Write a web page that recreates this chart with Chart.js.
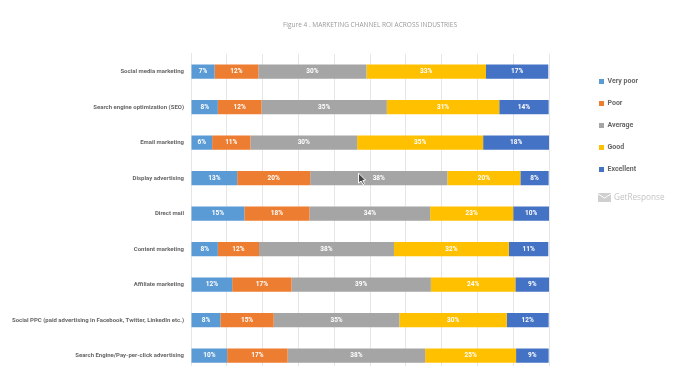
<!DOCTYPE html>
<html>
<head>
<meta charset="utf-8">
<script src="https://cdn.jsdelivr.net/npm/chart.js@4"></script>
<style>
  html, body { margin: 0; background: #fff; overflow: hidden; }
  #wrap { width: 681px; height: 366px; overflow: hidden; }
  #box { width: 681px; height: 384px; position: relative; }
</style>
</head>
<body>
<div id="wrap"><div id="box"><canvas id="c"></canvas></div></div>
<script>
const channels = [
  'Social media marketing',
  'Search engine optimization (SEO)',
  'Email marketing',
  'Display advertising',
  'Direct mail',
  'Content marketing',
  'Affiliate marketing',
  'Social PPC (paid advertising in Facebook, Twitter, LinkedIn etc.)',
  'Search Engine/Pay-per-click advertising'
];
const veryPoor = [6.6, 7.5, 5.9, 12.9, 14.9, 7.5, 11.5, 8.2, 10.1];
const poor = [12.2, 12.2, 10.7, 20.4, 18.2, 11.5, 16.6, 14.9, 16.9];
const average = [30.2, 35, 29.8, 38.3, 33.7, 37.7, 38.9, 35.1, 38.4];
const good = [33.4, 31.4, 35.2, 20.4, 23.2, 32.1, 23.6, 30, 25.4];
const excellent = [17.4, 13.8, 18.4, 7.9, 10, 11, 9.4, 11.7, 9.1];
const grey = '#666';

const valueLabels = {
  id: 'valueLabels',
  afterDatasetsDraw(chart) {
    const {ctx} = chart;
    ctx.save();
    ctx.fillStyle = '#fff';
    ctx.font = 'bold 6.5px Roboto';
    ctx.textAlign = 'center';
    ctx.textBaseline = 'middle';
    chart.data.datasets.forEach((ds, d) => {
      chart.getDatasetMeta(d).data.forEach((bar, i) => {
        ctx.fillText(Math.round(ds.data[i]) + '%', (bar.x + bar.base) / 2, bar.y);
      });
    });
    ctx.restore();
  }
};

// legend sits away from the plot, so move it after layout
const legendSpot = {
  id: 'legendSpot',
  afterLayout(chart) {
    const lg = chart.legend;
    lg.left = 584;
    lg.right = chart.width;
    lg.top = 63;
    lg.bottom = 190;
  }
};

// logo under the legend, mouse pointer left in the screenshot
const extras = {
  id: 'extras',
  afterDraw(chart) {
    const {ctx, scales} = chart;
    ctx.save();
    ctx.fillStyle = '#cfcfcf';
    ctx.fillRect(598, 193, 13, 9);
    ctx.strokeStyle = '#fff';
    ctx.lineWidth = 1;
    ctx.beginPath(); ctx.moveTo(598, 194); ctx.lineTo(604.5, 198); ctx.lineTo(611, 194); ctx.stroke();
    ctx.fillStyle = '#c4c4c4';
    ctx.font = '8.2px "Open Sans"';
    ctx.textBaseline = 'middle';
    ctx.fillText('GetResponse', 614, 198);

    const px = scales.x.getPixelForValue(46.8);
    const py = scales.y.getPixelForValue(3) - 5;
    ctx.beginPath();
    ctx.moveTo(px, py);
    ctx.lineTo(px, py + 10);
    ctx.lineTo(px + 2.5, py + 8);
    ctx.lineTo(px + 4.5, py + 11.5);
    ctx.lineTo(px + 6, py + 10.5);
    ctx.lineTo(px + 4.2, py + 7.5);
    ctx.lineTo(px + 7, py + 7);
    ctx.closePath();
    ctx.fillStyle = '#444';
    ctx.strokeStyle = '#fff';
    ctx.fill();
    ctx.stroke();
    ctx.restore();
  }
};

function series(label, data, color) {
  return {label, data, backgroundColor: color, barPercentage: 0.8, categoryPercentage: 0.5};
}

new Chart(document.getElementById('c'), {
  type: 'bar',
  data: {
    labels: channels,
    datasets: [
      series('Very poor', veryPoor, '#5b9bd5'),
      series('Poor', poor, '#ed7d31'),
      series('Average', average, '#a5a5a5'),
      series('Good', good, '#ffc000'),
      series('Excellent', excellent, '#4472c4')
    ]
  },
  options: {
    indexAxis: 'y',
    responsive: true,
    maintainAspectRatio: false,
    animation: false,
    layout: {padding: {top: 0, right: 68, bottom: 7, left: 0}},
    plugins: {
      title: {
        display: true,
        fullSize: false,
        text: 'Figure 4 . MARKETING CHANNEL ROI ACROSS INDUSTRIES',
        color: '#999',
        font: {family: '"Open Sans"', size: 6.5, weight: 'normal'},
        padding: {top: 21, bottom: 25}
      },
      legend: {
        position: 'right',
        align: 'start',
        labels: {
          boxWidth: 5, boxHeight: 5, padding: 15,
          color: grey,
          font: {family: 'Roboto', size: 7, weight: 'bold'}
        }
      },
      tooltip: {enabled: false}
    },
    scales: {
      x: {
        stacked: true, min: 0, max: 100,
        ticks: {display: false, stepSize: 10},
        grid: {color: '#e6e6e6', drawTicks: false},
        border: {display: false}
      },
      y: {
        stacked: true,
        afterFit(scale) { scale.width = 191; },
        ticks: {
          color: grey, padding: 7, autoSkip: false,
          font: {family: 'Roboto', size: 6, weight: 'bold'}
        },
        grid: {display: false, drawTicks: false},
        border: {color: '#e6e6e6'}
      }
    }
  },
  plugins: [valueLabels, legendSpot, extras]
});
</script>
</body>
</html>
